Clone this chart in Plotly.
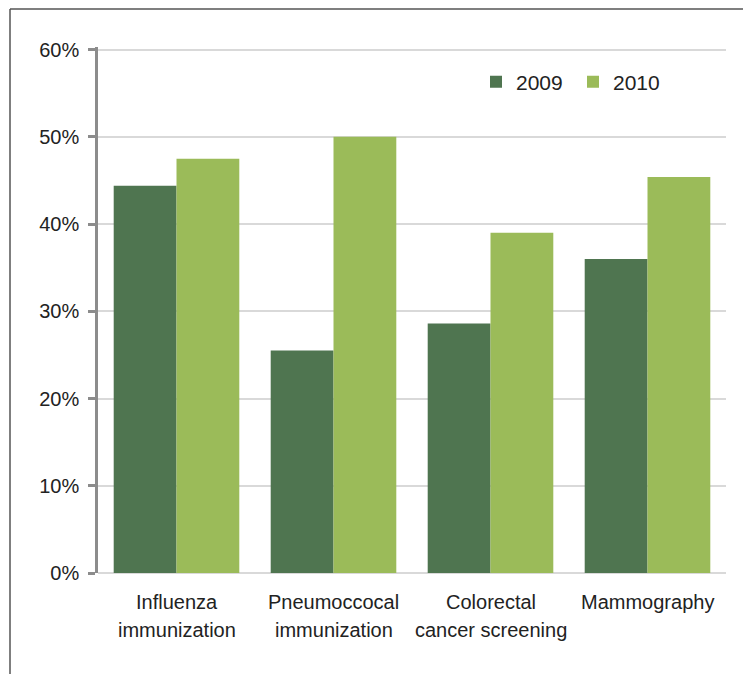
import plotly.graph_objects as go

categories = ["Influenza<br>immunization", "Pneumoccocal<br>immunization",
              "Colorectal<br>cancer screening", "Mammography"]
series_names = ["2009", "2010"]
values_2009 = [44.4, 25.5, 28.6, 36.0]
values_2010 = [47.5, 50.0, 39.0, 45.4]
y_ticks = [0, 10, 20, 30, 40, 50, 60]
y_tick_labels = ["0%", "10%", "20%", "30%", "40%", "50%", "60%"]
colors = ["#4f7550", "#9bbb59"]

# figure is placed at (8, 8) in the page (default body margin)
W, H = 743, 666
L, R, T, B = 90, 25, 39, 101
pw, ph = W - L - R, H - T - B

def px_x(x):
    return (x - L) / pw

def px_y(y):
    return (H - B - y) / ph

fig = go.Figure()
for name, vals, c in zip(series_names, [values_2009, values_2010], colors):
    fig.add_trace(go.Bar(x=categories, y=vals, name=name, marker_color=c,
                         marker_line_width=0))

font = "Liberation Sans, Arial, sans-serif"
fig.update_layout(
    width=W, height=H,
    margin=dict(l=L, r=R, t=T, b=B, pad=0),
    paper_bgcolor="white", plot_bgcolor="white",
    barmode="group", bargap=0.2, bargroupgap=0,
    font=dict(family=font, size=20, color="#222222"),
    showlegend=True,
    legend=dict(orientation="h", x=px_x(468), y=px_y(74), xanchor="left",
                yanchor="middle", font=dict(size=21), bgcolor="rgba(0,0,0,0)",
                traceorder="normal", entrywidth=52, itemwidth=30),
    xaxis=dict(showline=False, ticks="", showgrid=False,
               showticklabels=False, fixedrange=True),
    yaxis=dict(range=[0, 60.3], tickvals=y_ticks, ticktext=y_tick_labels,
               showline=True, linecolor="#8c8c8c", linewidth=2.5,
               ticks="outside", ticklen=7, tickwidth=2.5, tickcolor="#8c8c8c",
               showgrid=True, gridcolor="#d9d9d9", gridwidth=2,
               zeroline=True, zerolinecolor="#d9d9d9", zerolinewidth=2,
               tickfont=dict(size=20), ticklabelstandoff=5, fixedrange=True),
)

# category labels, one annotation per text line
for cat in categories:
    for i, line in enumerate(cat.split("<br>")):
        fig.add_annotation(x=cat, y=0, xref="x", yref="y", text=line,
                           showarrow=False, yanchor="middle",
                           yshift=-(29 + 28 * i),
                           font=dict(size=20, color="#222222"))

border = dict(color="#555555", width=1.5)
x0, x1 = px_x(2), px_x(738.5)
yt, yb = px_y(1), px_y(700)
fig.add_shape(type="line", xref="paper", yref="paper", x0=x0, x1=x0, y0=yb, y1=yt, line=border)
fig.add_shape(type="line", xref="paper", yref="paper", x0=x0, x1=x1, y0=yt, y1=yt, line=border)
fig.add_shape(type="line", xref="paper", yref="paper", x0=x1, x1=x1, y0=yb, y1=yt, line=border)

fig.write_html("out.html")
